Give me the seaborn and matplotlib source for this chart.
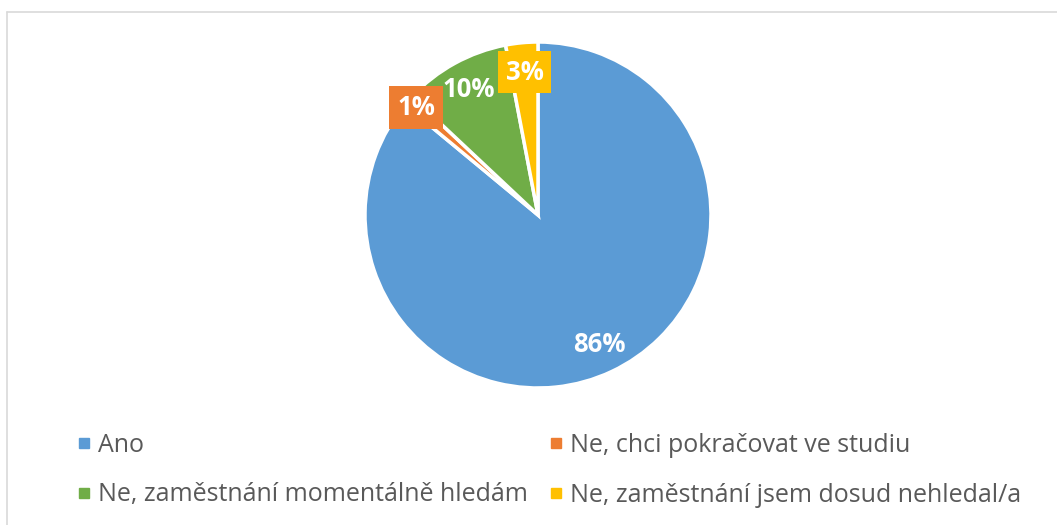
import matplotlib.pyplot as plt
import seaborn as sns
import numpy as np
from matplotlib.lines import Line2D

categories = ["Ano", "Ne, chci pokračovat ve studiu",
              "Ne, zaměstnání momentálně hledám", "Ne, zaměstnání jsem dosud nehledal/a"]
values = [86, 1, 10, 3]
colors = ["#5B9BD5", "#ED7D31", "#70AD47", "#FFC000"]

sns.set_theme(style="white")
plt.rcParams['font.family'] = ['Open Sans', 'DejaVu Sans']

W, H = 1057, 525
fig = plt.figure(figsize=(W / 100, H / 100), dpi=100)

# pie centre and radius in pixels
cx, cy, r = 538, 215, 173
ax = fig.add_axes([(cx - r) / W, (H - cy - r) / H, 2 * r / W, 2 * r / H])
wedges, _ = ax.pie(values, colors=colors, startangle=90, counterclock=False,
                   wedgeprops=dict(edgecolor="white", linewidth=2.5))
ax.set_xlim(-1, 1)
ax.set_ylim(-1, 1)
ax.axis("off")

total = sum(values)
for w, v, c in zip(wedges, values, colors):
    mid = np.deg2rad((w.theta1 + w.theta2) / 2)
    small = v / total < 0.05
    dist = 0.94 if v / total < 0.02 else 0.83
    box = dict(boxstyle="square,pad=0.3", fc=c, ec="none") if small else None
    ax.text(dist * np.cos(mid), dist * np.sin(mid), f"{v / total * 100:.0f}%",
            ha="center", va="center", color="white", fontsize=18.5,
            fontweight="bold", bbox=box)

# legend (filled row by row)
order = [0, 2, 1, 3]
handles = [Line2D([], [], marker="s", ls="", color=colors[i], markersize=7) for i in order]
labels = [categories[i] for i in order]
fig.legend(handles, labels, ncol=2, loc="upper left",
           bbox_to_anchor=(76 / W, 1 - 433 / H), frameon=False,
           borderpad=0, borderaxespad=0,
           fontsize=18, labelcolor="#595959", handlelength=0.6,
           handletextpad=0.28, columnspacing=0.82, labelspacing=0.98)

# chart area border (top and left visible)
fig.add_artist(Line2D([7 / W, 1], [1 - 12 / H, 1 - 12 / H], color="#D9D9D9", lw=1.2))
fig.add_artist(Line2D([7 / W, 7 / W], [1 - 12 / H, 0], color="#D9D9D9", lw=1.2))

fig.savefig("out.png", dpi=100, facecolor="white")
